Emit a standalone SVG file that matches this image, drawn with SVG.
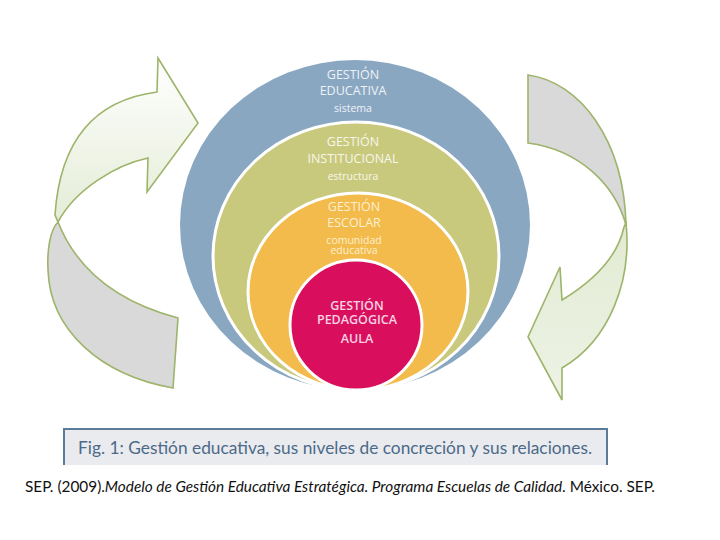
<svg xmlns="http://www.w3.org/2000/svg" width="720" height="540" viewBox="0 0 720 540">
<defs>
<style>
.cap{font-family:"Open Sans","Noto Sans",sans-serif;font-size:12.5px;text-anchor:middle}
.low{font-family:"Open Sans","Noto Sans",sans-serif;font-size:10.5px;text-anchor:middle}
.ring{stroke:#ffffff;stroke-width:3}
.arr{stroke:#9db46b;stroke-width:1.6;stroke-linejoin:miter}
</style>
<linearGradient id="gl" x1="0" y1="0" x2="0" y2="1">
<stop offset="0" stop-color="#ffffff"/>
<stop offset="1" stop-color="#e4ecd6"/>
</linearGradient>
<linearGradient id="gr" x1="0" y1="0" x2="0" y2="1">
<stop offset="0" stop-color="#e2ead2"/>
<stop offset="1" stop-color="#eef3e6"/>
</linearGradient>
</defs>
<rect width="720" height="540" fill="#ffffff"/>
<g id="connectors">
<g id="arrow-left">
<path class="arr" fill="#d9d9d9" d="M58,222 C75,265 110,300 178,318 L173,388 C100,375 50,330 48,270 C47,250 50,230 58,222 Z"/>
<path class="arr" fill="url(#gl)" d="M55,215 C60,140 95,100 157,92 L158,58 L198,123 L147,192 L148,158 C115,165 75,190 58,222 Z"/>
</g>
<g id="arrow-right">
<path class="arr" fill="#d9d9d9" d="M528,75 C580,82 624,140 626,225 C615,185 580,150 528,143 Z"/>
<path class="arr" fill="url(#gr)" d="M626,223 C632,280 610,340 562,368 L562,400 L528,337 L560,267 L562,300 C595,280 618,255 624,227 Z"/>
</g>
</g>
<g id="node-educativa">
<ellipse cx="355" cy="225" rx="175" ry="165" fill="#8aa7c2"/>
</g>
<g id="node-institucional">
<ellipse class="ring" cx="356" cy="256" rx="143" ry="134" fill="#c9c97e"/>
</g>
<g id="node-escolar">
<ellipse class="ring" cx="358" cy="291.5" rx="110" ry="98.5" fill="#f2bb4c"/>
</g>
<g id="node-pedagogica">
<ellipse class="ring" cx="356" cy="325" rx="66" ry="65" fill="#d90f5d"/>
</g>
<g id="labels">
<text class="cap" x="353" y="79" fill="#eef2f6">GESTIÓN</text>
<text class="cap" x="353" y="95" fill="#eef2f6">EDUCATIVA</text>
<text class="low" x="353" y="112" fill="#eef2f6">sistema</text>
<text class="cap" x="353" y="146" fill="#f7f7ea">GESTIÓN</text>
<text class="cap" x="353" y="163" fill="#f7f7ea">INSTITUCIONAL</text>
<text class="low" x="353" y="180" fill="#f7f7ea">estructura</text>
<text class="cap" x="354" y="211" fill="#fdf0d2">GESTIÓN</text>
<text class="cap" x="354" y="227" fill="#fdf0d2">ESCOLAR</text>
<text class="low" x="354" y="244" fill="#fdf0d2">comunidad</text>
<text class="low" x="354" y="254" fill="#fdf0d2">educativa</text>
<text class="cap" x="357" y="310" fill="#f8d2e2" font-weight="600">GESTIÓN</text>
<text class="cap" x="357" y="324" fill="#f8d2e2" font-weight="600">PEDAGÓGICA</text>
<text class="cap" x="357" y="343" fill="#f8d2e2" font-weight="600">AULA</text>
</g>
<g id="caption">
<path d="M64,465 L64,429 L607,429 L607,465 Z" fill="#e9ebef"/>
<path d="M64,465 L64,429 L607,429 L607,465" fill="none" stroke="#5b7b98" stroke-width="2"/>
<text x="78" y="454" font-family="Lato,'Open Sans',sans-serif" font-size="18" fill="#4c6a88" textLength="514" lengthAdjust="spacingAndGlyphs">Fig. 1: Gestión educativa, sus niveles de concreción y sus relaciones.</text>
</g>
<text x="25" y="492" font-family="Lato,'Open Sans',sans-serif" font-size="15" fill="#111111" textLength="630" lengthAdjust="spacingAndGlyphs">SEP. (2009).<tspan font-style="italic">Modelo de Gestión Educativa Estratégica. Programa Escuelas de Calidad</tspan>. México. SEP.</text>
</svg>
